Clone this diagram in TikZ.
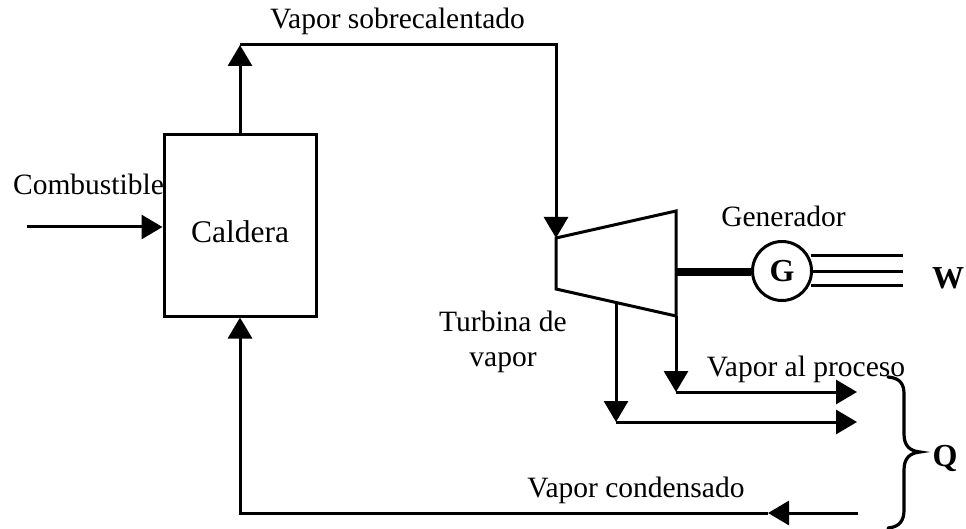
\documentclass[tikz,border=0pt]{standalone}
\usepackage{fontspec}
\setmainfont{Liberation Serif}
\usetikzlibrary{arrows.meta}
\tikzset{
  x=1pt,y=-1pt,
  line/.style={line width=3pt,line join=miter},
  flow/.style={line,-{Triangle[length=21pt,width=24pt]}},
  lbl/.style={inner sep=0pt,anchor=base,font=\fontsize{29.5}{34}\selectfont,text=black},
  boxed/.style={draw,line width=3pt,inner sep=0pt,minimum width=152pt,minimum height=181pt},
  gen/.style={draw,circle,line width=3pt,inner sep=0pt,minimum size=59pt,font=\fontsize{32}{34}\selectfont\bfseries},
  bold/.style={lbl,font=\fontsize{32}{34}\selectfont\bfseries}
}
\begin{document}
\begin{tikzpicture}
\useasboundingbox[fill=white] (0,0) rectangle (966,529);
\node[boxed] (cal) at (240,225.5) {};
\node[lbl,font=\fontsize{31.5}{36}\selectfont] (caltxt) at (240,243) {Caldera};
\coordinate (tl) at (240,45);
\coordinate (tr) at (556,45);
\coordinate (t1) at (556,238);
\coordinate (t2) at (676,211);
\coordinate (t3) at (676,316);
\coordinate (t4) at (556,289);
\draw[line] (t1) -- (t2) -- (t3) -- (t4) -- cycle;
\draw[flow] (cal.north -| tl) -- (tl);
\draw[flow] (tl) -- (tr) -- (t1);
\coordinate (cs) at (27,227);
\draw[flow] (cs) -- (cs -| cal.west);
\node[gen] (g) at (782,271) {G};
\draw[line width=8pt] (676,272) coordinate (sh) -- (sh -| g.west);
\coordinate (w1) at (903,256);
\coordinate (w2) at (903,272);
\coordinate (w3) at (903,286);
\draw[line] (811,256) -- (w1);
\draw[line] (g.east |- w2) -- (w2);
\draw[line] (811,286) -- (w3);
\coordinate (a1) at (676,392);
\coordinate (a2) at (857,392);
\draw[flow] (t3) -- (a1);
\draw[flow] (a1) -- (a2);
\coordinate (b0) at (616,302.5);
\coordinate (b1) at (616,422);
\coordinate (b2) at (857,422);
\draw[flow] (b0) -- (b1);
\draw[flow] (b1) -- (b2);
\coordinate (c0) at (858,513);
\coordinate (c1) at (768,513);
\coordinate (c2) at (240,513);
\draw[flow] (c0) -- (c1);
\draw[flow] (c1) -- (c2) -- (cal.south -| c2);
\draw[line width=3.2pt,line cap=round] (888,377) .. controls (900,378) and (904,384) .. (904,394)
  -- (904,434) .. controls (904,446) and (910,451) .. (920,452)
  .. controls (910,453) and (904,458) .. (904,470)
  -- (904,510) .. controls (904,520) and (900,527) .. (888,528);
\node[lbl] (n1) at (397.5,28.5) {Vapor sobrecalentado};
\node[lbl] (n2) at (88.5,195) {Combustible};
\node[lbl] (n3) at (783.5,227) {Generador};
\node[lbl] (n4) at (503,331) {Turbina de};
\node[lbl] (n5) at (503,366) {vapor};
\node[lbl] (n6) at (806,376) {Vapor al proceso};
\node[lbl] (n7) at (636,497) {Vapor condensado};
\node[bold] (w) at (948,288) {W};
\node[bold] (q) at (945,466) {Q};
\end{tikzpicture}
\end{document}
